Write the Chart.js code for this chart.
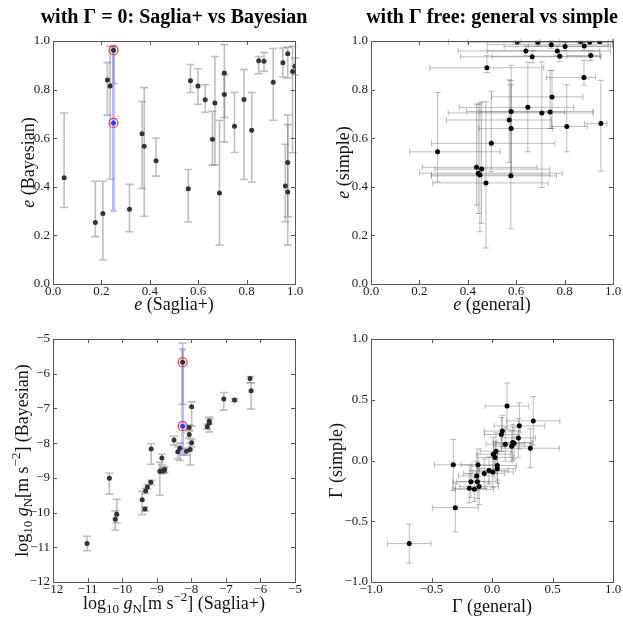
<!DOCTYPE html>
<html>
<head>
<meta charset="utf-8">
<script src="https://cdn.jsdelivr.net/npm/chart.js@4.4.1/dist/chart.umd.min.js"></script>
<style>
  html, body { margin: 0; padding: 0; background: #fff; }
  #wrap { position: relative; width: 623px; height: 617px; }
  #wrap canvas { position: absolute; left: 0; top: 0; }
</style>
</head>
<body>
<div id="wrap">
  <canvas id="c1" width="623" height="617"></canvas>
  <canvas id="c2" width="623" height="617"></canvas>
  <canvas id="c3" width="623" height="617"></canvas>
  <canvas id="c4" width="623" height="617"></canvas>
</div>
<script>
// tick labels
const eTickLabels = ['0.0', '0.2', '0.4', '0.6', '0.8', '1.0'];
const gNTickLabels = ['\u221212', '\u221211', '\u221210', '\u22129', '\u22128', '\u22127', '\u22126', '\u22125'];
const gammaTickLabels = ['\u22121.0', '\u22120.5', '0.0', '0.5', '1.0'];

// panel 1: e with Gamma = 0, Saglia+ vs Bayesian
const e1Saglia = [0.046, 0.175, 0.206, 0.225, 0.236, 0.316, 0.368, 0.377, 0.426, 0.559, 0.568, 0.599, 0.629, 0.659, 0.669, 0.688, 0.708, 0.708, 0.75, 0.789, 0.821, 0.85, 0.872, 0.91, 0.95, 0.96, 0.97, 0.97, 0.97, 0.99, 1.0];
const e1Bayes = [0.437, 0.253, 0.29, 0.84, 0.815, 0.308, 0.618, 0.567, 0.507, 0.392, 0.836, 0.815, 0.758, 0.596, 0.745, 0.374, 0.868, 0.78, 0.649, 0.759, 0.633, 0.919, 0.917, 0.83, 0.91, 0.403, 0.948, 0.5, 0.379, 0.874, 0.896];
const e1BayesLo = [0.315, 0.195, 0.099, 0.695, 0.431, 0.215, 0.393, 0.279, 0.444, 0.256, 0.788, 0.74, 0.707, 0.489, 0.49, 0.16, 0.685, 0.585, 0.541, 0.43, 0.42, 0.865, 0.875, 0.674, 0.852, 0.256, 0.848, 0.277, 0.16, 0.54, 0.86];
const e1BayesHi = [0.704, 0.423, 0.423, 0.911, 0.978, 0.41, 0.751, 0.808, 0.6, 0.471, 0.903, 0.886, 0.82, 0.711, 0.936, 0.673, 0.985, 0.86, 0.788, 0.882, 0.788, 0.936, 0.952, 0.969, 0.971, 0.575, 0.975, 0.695, 0.656, 0.978, 0.93];
const e1MarkedX = [0.25, 0.25];
const e1MarkedY = [0.962, 0.663];
const e1MarkedLo = [0.825, 0.301];
const e1MarkedHi = [0.978, 0.978];

// panel 2: e with Gamma free, general vs simple
const e2General = [0.604, 0.689, 0.745, 0.802, 0.866, 0.881, 0.904, 0.945, 0.64, 0.77, 0.666, 0.78, 0.908, 0.479, 0.88, 0.748, 0.648, 0.579, 0.706, 0.74, 0.571, 0.579, 0.809, 0.95, 0.497, 0.275, 0.436, 0.457, 0.443, 0.45, 0.475, 0.578];
const e2GeneralLo = [0.32, 0.40, 0.48, 0.55, 0.62, 0.65, 0.70, 0.78, 0.36, 0.48, 0.37, 0.50, 0.81, 0.243, 0.725, 0.498, 0.364, 0.395, 0.319, 0.45, 0.312, 0.446, 0.746, 0.882, 0.25, 0.16, 0.213, 0.264, 0.20, 0.25, 0.255, 0.249];
const e2GeneralHi = [1.0, 0.98, 0.99, 0.98, 1.0, 1.0, 1.0, 1.0, 0.945, 0.99, 0.95, 0.95, 0.945, 0.714, 0.928, 0.876, 0.838, 0.918, 0.918, 0.80, 0.746, 0.75, 0.893, 0.975, 0.76, 0.534, 0.686, 0.739, 0.79, 0.739, 0.732, 0.766];
const e2Simple = [0.997, 0.995, 0.985, 0.977, 0.998, 0.979, 0.996, 0.998, 0.959, 0.959, 0.935, 0.937, 0.94, 0.89, 0.85, 0.77, 0.727, 0.71, 0.704, 0.708, 0.675, 0.64, 0.648, 0.66, 0.579, 0.544, 0.48, 0.473, 0.456, 0.449, 0.416, 0.445];
const e2SimpleLo = [0.985, 0.98, 0.97, 0.96, 0.99, 0.96, 0.985, 0.99, 0.94, 0.94, 0.91, 0.915, 0.92, 0.87, 0.818, 0.64, 0.544, 0.44, 0.397, 0.64, 0.50, 0.46, 0.544, 0.464, 0.462, 0.42, 0.325, 0.25, 0.29, 0.215, 0.148, 0.227];
const e2SimpleHi = [1.0, 1.0, 1.0, 0.995, 1.0, 0.995, 1.0, 1.0, 0.98, 0.98, 0.96, 0.96, 0.96, 0.94, 0.92, 0.878, 0.913, 0.90, 0.914, 0.879, 0.84, 0.82, 0.82, 0.838, 0.793, 0.788, 0.74, 0.75, 0.74, 0.745, 0.75, 0.838];

// panel 3: log10 gN, Saglia+ vs Bayesian
const g3Saglia = [-11.015, -10.37, -10.2, -10.155, -9.42, -9.34, -9.32, -9.27, -9.17, -9.16, -8.91, -8.85, -8.83, -8.79, -8.77, -8.5, -8.39, -8.33, -8.06, -8.06, -8.14, -8.03, -7.99, -7.99, -7.54, -7.48, -7.48, -7.06, -6.75, -6.3, -6.27];
const g3Bayes = [-10.89, -9.01, -10.19, -10.05, -9.63, -9.9, -9.38, -9.26, -9.13, -8.17, -8.81, -8.43, -8.8, -8.78, -8.76, -7.91, -8.25, -8.15, -7.55, -7.75, -8.23, -8.18, -7.99, -6.95, -7.53, -7.37, -7.42, -6.73, -6.76, -6.14, -6.49];
const g3BayesLo = [-11.1, -9.47, -10.51, -10.3, -10.06, -9.95, -9.45, -9.32, -9.2, -8.61, -9.5, -8.63, -8.88, -8.86, -8.84, -8.05, -8.45, -8.5, -7.62, -7.85, -8.35, -8.63, -8.1, -7.51, -7.6, -7.45, -7.68, -7.05, -6.8, -6.26, -7.02];
const g3BayesHi = [-10.68, -8.86, -9.95, -9.62, -9.39, -9.84, -9.3, -9.2, -9.07, -8.01, -8.55, -8.32, -8.72, -8.7, -8.68, -7.8, -8.1, -8.0, -7.48, -7.65, -8.15, -8.0, -7.9, -6.81, -7.45, -7.25, -7.3, -6.54, -6.72, -6.08, -6.26];
const g3MarkedX = [-8.25, -8.25];
const g3MarkedY = [-5.67, -7.51];
const g3MarkedLo = [-6.88, -8.33];
const g3MarkedHi = [-5.12, -5.3];

// panel 4: Gamma, general vs simple
const g4General = [-0.684, -0.303, -0.32, -0.188, -0.174, -0.146, -0.121, -0.127, -0.116, -0.107, -0.064, -0.025, 0.006, 0.044, 0.044, 0.011, 0.025, 0.033, 0.077, 0.085, 0.124, 0.11, 0.163, 0.171, 0.218, 0.226, 0.317, 0.341, 0.183];
const g4GeneralErr = [0.18, 0.19, 0.155, 0.14, 0.15, 0.16, 0.17, 0.15, 0.14, 0.16, 0.17, 0.16, 0.17, 0.15, 0.16, 0.14, 0.15, 0.13, 0.14, 0.15, 0.18, 0.16, 0.15, 0.16, 0.14, 0.21, 0.24, 0.22, 0.15];
const g4Simple = [-0.684, -0.388, -0.036, -0.229, -0.174, -0.237, -0.174, -0.127, -0.036, -0.213, -0.108, -0.083, -0.094, -0.068, -0.041, 0.052, 0.025, 0.077, 0.214, 0.242, 0.448, 0.134, 0.118, 0.148, 0.186, 0.285, 0.101, 0.326, 0.143];
const g4SimpleErr = [0.16, 0.2, 0.21, 0.12, 0.13, 0.1, 0.14, 0.12, 0.13, 0.15, 0.12, 0.11, 0.13, 0.12, 0.12, 0.14, 0.13, 0.15, 0.14, 0.13, 0.19, 0.14, 0.13, 0.15, 0.16, 0.19, 0.16, 0.2, 0.13];

const SERIF = '"Liberation Serif", "DejaVu Serif", serif';
const W = 623, H = 617;

function pts(xs, ys) {
  return xs.map((x, i) => ({ x: x, y: ys[i] }));
}

// draws a label made of pieces (italic, sub, sup), centred on x
function drawRich(ctx, parts, x, y, size, rotate) {
  const fontFor = p => (p.it ? 'italic ' : '') + (p.sub || p.sup ? Math.round(size * 0.7) : size) + 'px ' + SERIF;
  ctx.save();
  ctx.translate(x, y);
  if (rotate) ctx.rotate(-Math.PI / 2);
  let w = 0;
  parts.forEach(p => { ctx.font = fontFor(p); w += ctx.measureText(p.t).width; });
  let cx = -w / 2;
  ctx.fillStyle = '#111';
  ctx.textBaseline = 'alphabetic';
  ctx.textAlign = 'left';
  parts.forEach(p => {
    ctx.font = fontFor(p);
    const dy = p.sub ? size * 0.22 : (p.sup ? -size * 0.42 : 0);
    ctx.fillText(p.t, cx, dy);
    cx += ctx.measureText(p.t).width;
  });
  ctx.restore();
}

function errLine(ctx, x1, y1, x2, y2, cap, vertical) {
  ctx.beginPath();
  ctx.moveTo(x1, y1); ctx.lineTo(x2, y2);
  if (vertical) {
    ctx.moveTo(x1 - cap, y1); ctx.lineTo(x1 + cap, y1);
    ctx.moveTo(x2 - cap, y2); ctx.lineTo(x2 + cap, y2);
  } else {
    ctx.moveTo(x1, y1 - cap); ctx.lineTo(x1, y1 + cap);
    ctx.moveTo(x2, y2 - cap); ctx.lineTo(x2, y2 + cap);
  }
  ctx.stroke();
}

function makePanel(id, p) {
  const decor = {
    id: 'decor_' + id,
    beforeDatasetsDraw(chart) {
      const { ctx, scales: { x, y } } = chart;
      ctx.save();
      ctx.strokeStyle = p.barColor;
      ctx.lineWidth = p.barWidth;
      p.xs.forEach((xv, i) => {
        const X = x.getPixelForValue(xv), Y = y.getPixelForValue(p.ys[i]);
        if (p.yLo) errLine(ctx, X, y.getPixelForValue(p.yLo[i]), X, y.getPixelForValue(p.yHi[i]), p.cap, true);
        if (p.xLo) errLine(ctx, x.getPixelForValue(p.xLo[i]), Y, x.getPixelForValue(p.xHi[i]), Y, p.cap, false);
      });
      if (p.marked) {
        const m = p.marked;
        const X = x.getPixelForValue(m.x[0]);
        // blue band for the second fit
        ctx.strokeStyle = 'rgba(70,70,255,0.35)';
        ctx.lineWidth = 3;
        errLine(ctx, X, y.getPixelForValue(m.lo[1]), X, y.getPixelForValue(m.hi[1]), 3, true);
        ctx.strokeStyle = p.barColor;
        ctx.lineWidth = p.barWidth;
        errLine(ctx, X, y.getPixelForValue(m.lo[0]), X, y.getPixelForValue(m.hi[0]), p.cap, true);
      }
      ctx.restore();
    },
    afterDraw(chart) {
      const { ctx, chartArea: a, scales: { x, y } } = chart;
      ctx.save();
      ctx.strokeStyle = '#555';
      ctx.lineWidth = 1;
      ctx.strokeRect(a.left + 0.5, a.top + 0.5, a.right - a.left, a.bottom - a.top);
      ctx.beginPath();
      x.ticks.forEach(t => {
        const X = Math.round(x.getPixelForValue(t.value)) + 0.5;
        ctx.moveTo(X, a.bottom); ctx.lineTo(X, a.bottom - 4);
        ctx.moveTo(X, a.top); ctx.lineTo(X, a.top + 4);
      });
      y.ticks.forEach(t => {
        const Y = Math.round(y.getPixelForValue(t.value)) + 0.5;
        ctx.moveTo(a.left, Y); ctx.lineTo(a.left + 4, Y);
        ctx.moveTo(a.right, Y); ctx.lineTo(a.right - 4, Y);
      });
      ctx.stroke();
      // panel title
      if (p.title) {
        ctx.font = 'bold 20px ' + SERIF;
        ctx.fillStyle = '#000';
        ctx.textAlign = 'center';
        ctx.textBaseline = 'alphabetic';
        ctx.fillText(p.title, (a.left + a.right) / 2, 23);
      }
      drawRich(ctx, p.xTitle, (a.left + a.right) / 2, p.xTitleY, 18, false);
      drawRich(ctx, p.yTitle, p.yTitleX, (a.top + a.bottom) / 2, 18, true);
      ctx.restore();
    }
  };

  const datasets = [{
    data: pts(p.xs, p.ys),
    pointRadius: 2.5,
    pointBackgroundColor: p.dotColor,
    pointBorderWidth: 0,
    showLine: false
  }];
  if (p.marked) {
    datasets.push({
      data: pts(p.marked.x, p.marked.y),
      pointRadius: 2.5,
      pointBackgroundColor: ['#333', '#2a3cff'],
      pointBorderWidth: 0
    });
    datasets.push({
      data: pts(p.marked.x, p.marked.y),
      pointRadius: 4.5,
      pointBackgroundColor: 'rgba(0,0,0,0)',
      pointBorderColor: '#e8323c',
      pointBorderWidth: 1.2
    });
  }

  const tickOpts = (labels, step, pad) => ({
    stepSize: step,
    autoSkip: false,
    maxRotation: 0,
    padding: pad,
    color: '#1a1a1a',
    font: { family: SERIF, size: 13 },
    callback: (v, i) => labels[i]
  });

  new Chart(document.getElementById(id), {
    type: 'scatter',
    data: { datasets },
    options: {
      responsive: false,
      animation: false,
      devicePixelRatio: 1,
      events: [],
      layout: { padding: { left: 0, top: p.area.t, right: W - p.area.r, bottom: 0 } },
      plugins: { legend: { display: false }, tooltip: { enabled: false }, title: { display: false } },
      scales: {
        x: {
          type: 'linear', position: 'bottom', min: p.range[0], max: p.range[1],
          grid: { display: false, drawTicks: false },
          border: { display: false },
          ticks: tickOpts(p.labels, p.step, 0),
          afterFit: s => { s.height = H - p.area.b; }
        },
        y: {
          type: 'linear', position: 'left', min: p.range[0], max: p.range[1],
          grid: { display: false, drawTicks: false },
          border: { display: false },
          ticks: tickOpts(p.labels, p.step, 3),
          afterFit: s => { s.width = p.area.l; }
        }
      }
    },
    plugins: [decor]
  });
}

const gN = [{ t: 'log' }, { t: '10', sub: true }, { t: ' ' }, { t: 'g', it: true }, { t: 'N', sub: true }, { t: '[m s' }, { t: '\u22122', sup: true }, { t: ']' }];

makePanel('c1', {
  area: { l: 53, t: 41, r: 295, b: 284 },
  range: [0, 1], step: 0.2, labels: eTickLabels,
  xs: e1Saglia, ys: e1Bayes, yLo: e1BayesLo, yHi: e1BayesHi,
  marked: { x: e1MarkedX, y: e1MarkedY, lo: e1MarkedLo, hi: e1MarkedHi },
  dotColor: '#333', barColor: 'rgba(110,110,110,0.45)', barWidth: 1.6, cap: 4,
  title: 'with \u0393 = 0: Saglia+ vs Bayesian',
  xTitle: [{ t: 'e', it: true }, { t: ' (Saglia+)' }], xTitleY: 310,
  yTitle: [{ t: 'e', it: true }, { t: ' (Bayesian)' }], yTitleX: 34
});

makePanel('c2', {
  area: { l: 371, t: 41, r: 613, b: 284 },
  range: [0, 1], step: 0.2, labels: eTickLabels,
  xs: e2General, ys: e2Simple, xLo: e2GeneralLo, xHi: e2GeneralHi, yLo: e2SimpleLo, yHi: e2SimpleHi,
  dotColor: '#000', barColor: 'rgba(90,90,90,0.4)', barWidth: 1, cap: 3,
  title: 'with \u0393 free: general vs simple',
  xTitle: [{ t: 'e', it: true }, { t: ' (general)' }], xTitleY: 310,
  yTitle: [{ t: 'e', it: true }, { t: ' (simple)' }], yTitleX: 349
});

makePanel('c3', {
  area: { l: 53, t: 339, r: 295, b: 582 },
  range: [-12, -5], step: 1, labels: gNTickLabels,
  xs: g3Saglia, ys: g3Bayes, yLo: g3BayesLo, yHi: g3BayesHi,
  marked: { x: g3MarkedX, y: g3MarkedY, lo: g3MarkedLo, hi: g3MarkedHi },
  dotColor: '#333', barColor: 'rgba(110,110,110,0.45)', barWidth: 1.6, cap: 4,
  xTitle: gN.concat([{ t: ' (Saglia+)' }]), xTitleY: 609,
  yTitle: gN.concat([{ t: ' (Bayesian)' }]), yTitleX: 28
});

makePanel('c4', {
  area: { l: 371, t: 339, r: 613, b: 582 },
  range: [-1, 1], step: 0.5, labels: gammaTickLabels,
  xs: g4General, ys: g4Simple,
  xLo: g4General.map((v, i) => v - g4GeneralErr[i]), xHi: g4General.map((v, i) => v + g4GeneralErr[i]),
  yLo: g4Simple.map((v, i) => v - g4SimpleErr[i]), yHi: g4Simple.map((v, i) => v + g4SimpleErr[i]),
  dotColor: '#000', barColor: 'rgba(90,90,90,0.4)', barWidth: 1, cap: 3,
  xTitle: [{ t: '\u0393' }, { t: ' (general)' }], xTitleY: 612,
  yTitle: [{ t: '\u0393' }, { t: ' (simple)' }], yTitleX: 342
});
</script>
</body>
</html>
